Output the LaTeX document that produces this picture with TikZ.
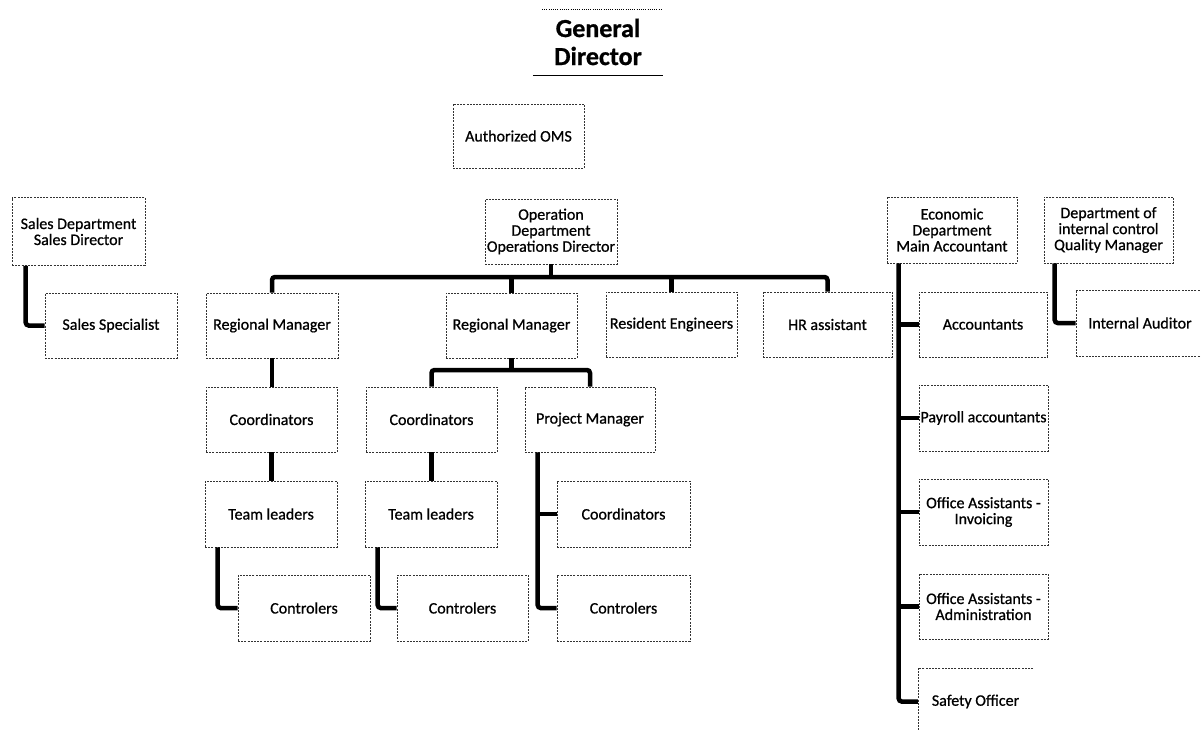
\documentclass[tikz,border=0pt]{standalone}
\usepackage{fontspec}
\setmainfont{Carlito}[RawFeature={embolden=0.8}]
\begin{document}
\begin{tikzpicture}[x=1pt,y=-1pt,
  box/.style={draw=black!80, line width=0.6pt, dash pattern=on 2pt off 1.2pt,
    inner sep=0pt, align=center, font=\fontsize{16}{16}\selectfont},
  bare/.style={inner sep=0pt, align=center, font=\fontsize{16}{16}\selectfont},
  conn/.style={line width=4.5pt, black, rounded corners=3pt}]
\useasboundingbox (0,0) rectangle (1201,730);
% top
\node[bare, minimum width=130pt, minimum height=66pt, font=\fontsize{26}{28}\selectfont\bfseries] (gd) at (598,42) {General\\Director};
\draw[line width=0.6pt, dash pattern=on 1pt off 1.2pt] (542,9) -- (662,9);
\draw[line width=0.9pt] (gd.south west) -- (gd.south east);
\node[box, minimum width=131pt, minimum height=64pt] (oms) at (518.5,136) {Authorized OMS};
\node[box, minimum width=132pt, minimum height=65pt] (op) at (551,231.5) {Operation\\Department\\Operations Director};
% sales
\node[box, minimum width=133pt, minimum height=68pt] (sd) at (78.5,231.5) {Sales Department\\Sales Director};
\node[box, minimum width=132pt, minimum height=65pt] (ss) at (111,325.5) {Sales Specialist};
% operations level 1
\node[box, minimum width=132pt, minimum height=65pt] (rm1) at (272,325.5) {Regional Manager};
\node[box, minimum width=131pt, minimum height=65pt] (rm2) at (511.5,325.5) {Regional Manager};
\node[box, minimum width=131pt, minimum height=65pt] (re) at (671.5,324.5) {Resident Engineers};
\node[box, minimum width=129pt, minimum height=65pt] (hr) at (827.5,324.5) {HR assistant};
% operations lower levels
\node[box, minimum width=131pt, minimum height=65pt] (co1) at (271.5,419.5) {Coordinators};
\node[box, minimum width=131pt, minimum height=65pt] (co2) at (431.5,419.5) {Coordinators};
\node[box, minimum width=130pt, minimum height=65pt] (pm) at (590,419.5) {Project Manager};
\node[box, minimum width=132pt, minimum height=66pt] (tl1) at (271,514) {Team leaders};
\node[box, minimum width=132pt, minimum height=66pt] (tl2) at (431,514) {Team leaders};
\node[box, minimum width=133pt, minimum height=66pt] (co3) at (623.5,514) {Coordinators};
\node[box, minimum width=132pt, minimum height=66pt] (ct1) at (304,608) {Controlers};
\node[box, minimum width=131pt, minimum height=66pt] (ct2) at (462.5,608) {Controlers};
\node[box, minimum width=133pt, minimum height=66pt] (ct3) at (623.5,608) {Controlers};
% economic
\node[box, minimum width=130pt, minimum height=66pt] (ed) at (952,230) {Economic\\Department\\Main Accountant};
\node[box, minimum width=129pt, minimum height=66pt] (ic) at (1108.5,230) {Department of\\internal control\\Quality Manager};
\node[box, minimum width=128pt, minimum height=65pt] (acc) at (983,324.5) {Accountants};
\node[box, minimum width=129pt, minimum height=66pt] (pay) at (983.5,418) {Payroll accountants};
\node[box, minimum width=129pt, minimum height=66pt] (inv) at (983.5,512) {Office Assistants -\\Invoicing};
\node[box, minimum width=129pt, minimum height=65pt] (adm) at (983.5,606.5) {Office Assistants -\\Administration};
\node[bare, minimum width=115pt, minimum height=67pt] (so) at (975.5,701.5) {Safety Officer};
\draw[black!80, line width=0.6pt, dash pattern=on 2pt off 1.2pt] (so.north east) -- (so.north west) -- (so.south west);
\node[box, minimum width=128pt, minimum height=66pt] (ia) at (1140,323) {Internal Auditor};
% connectors
\coordinate (bus) at (551,277);
\draw[conn] (rm1.north) |- (bus) -| (hr.north);
\draw[conn] (op.south) -- (bus);
\draw[conn] (rm2.north) -- (rm2.north |- bus);
\draw[conn] (re.north) -- (re.north |- bus);
\draw[conn] (rm1.south) -- (rm1.south |- co1.north);
\draw[conn] (co1.south) -- (co1.south |- tl1.north);
\draw[conn] ([xshift=13pt]tl1.south west) |- (ct1.west);
\coordinate (b2) at (511.5,370);
\draw[conn] (co2.north) |- (b2) -| (pm.north);
\draw[conn] (rm2.south) -- (b2);
\draw[conn] (co2.south) -- (co2.south |- tl2.north);
\draw[conn] ([xshift=13pt]tl2.south west) |- (ct2.west);
\draw[conn] ([xshift=13pt]pm.south west) |- (ct3.west);
\draw[conn] ([xshift=13pt]pm.south west |- co3.west) -- (co3.west);
\draw[conn] ([xshift=14pt]sd.south west) |- (ss.west);
\draw[conn] ([xshift=12pt]ed.south west) |- (so.west);
\draw[conn] ([xshift=12pt]ed.south west |- acc.west) -- (acc.west);
\draw[conn] ([xshift=12pt]ed.south west |- pay.west) -- (pay.west);
\draw[conn] ([xshift=12pt]ed.south west |- inv.west) -- (inv.west);
\draw[conn] ([xshift=12pt]ed.south west |- adm.west) -- (adm.west);
\draw[conn] ([xshift=11pt]ic.south west) |- (ia.west);
\end{tikzpicture}
\end{document}
